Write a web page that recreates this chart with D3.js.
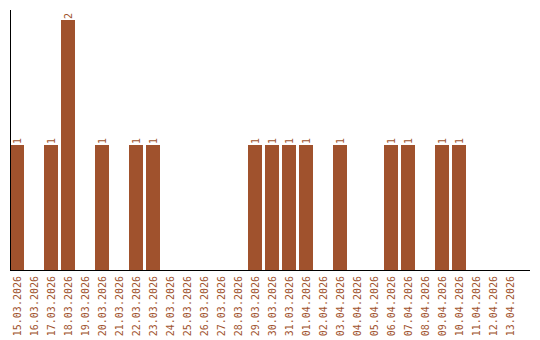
<html>
<head>
    <script src="https://d3js.org/d3.v7.min.js"></script>
    <style>
        body { margin: 0; background: #fff; }
        text { font-family: "DejaVu Sans Mono", monospace; font-size: 10px; fill: #a0522d; }
    </style>
</head>
<body>
<div id="chart"></div>
<script>
    var dates = ["15.03.2026", "16.03.2026", "17.03.2026", "18.03.2026", "19.03.2026", "20.03.2026",
        "21.03.2026", "22.03.2026", "23.03.2026", "24.03.2026", "25.03.2026", "26.03.2026",
        "27.03.2026", "28.03.2026", "29.03.2026", "30.03.2026", "31.03.2026", "01.04.2026",
        "02.04.2026", "03.04.2026", "04.04.2026", "05.04.2026", "06.04.2026", "07.04.2026",
        "08.04.2026", "09.04.2026", "10.04.2026", "11.04.2026", "12.04.2026", "13.04.2026"];
    var counts = [1, 0, 1, 2, 0, 1, 0, 1, 1, 0, 0, 0, 0, 0, 1, 1, 1, 1, 0, 1, 0, 0, 1, 1, 0, 1, 1, 0, 0, 0];

    var width = 540, height = 340;
    var left = 10, base = 270;

    var svg = d3.select("#chart").append("svg")
        .attr("width", width)
        .attr("height", height);

    var x = d3.scaleBand()
        .domain(dates)
        .range([left, 517])
        .paddingInner(3 / 17)
        .paddingOuter(0);

    var y = d3.scaleLinear()
        .domain([0, 2])
        .range([base, 20]);

    // bars
    svg.selectAll(".bar")
        .data(dates.filter(function(d, i) { return counts[i] > 0; }))
        .enter().append("rect")
        .attr("class", "bar")
        .attr("x", function(d) { return x(d); })
        .attr("width", x.bandwidth())
        .attr("y", function(d) { return y(counts[dates.indexOf(d)]); })
        .attr("height", function(d) { return base - y(counts[dates.indexOf(d)]); })
        .attr("fill", "#a0522d");

    // value labels
    svg.selectAll(".val")
        .data(dates.filter(function(d, i) { return counts[i] > 0; }))
        .enter().append("text")
        .attr("class", "val")
        .attr("transform", function(d) {
            var cx = x(d) + x.bandwidth() / 2 + 3.5;
            return "translate(" + cx + "," + (y(counts[dates.indexOf(d)]) - 1) + ") rotate(-90)";
        })
        .text(function(d) { return counts[dates.indexOf(d)]; });

    // date labels
    svg.selectAll(".lbl")
        .data(dates)
        .enter().append("text")
        .attr("class", "lbl")
        .attr("text-anchor", "end")
        .attr("transform", function(d) {
            var cx = x(d) + x.bandwidth() / 2 + 3.5;
            return "translate(" + cx + "," + (base + 6) + ") rotate(-90)";
        })
        .text(function(d) { return d; });

    // axes lines
    svg.append("line")
        .attr("x1", left + 0.5).attr("x2", left + 0.5)
        .attr("y1", 10).attr("y2", base)
        .attr("stroke", "#000");
    svg.append("line")
        .attr("x1", left).attr("x2", 530)
        .attr("y1", base + 0.5).attr("y2", base + 0.5)
        .attr("stroke", "#000");
</script>
</body>
</html>
